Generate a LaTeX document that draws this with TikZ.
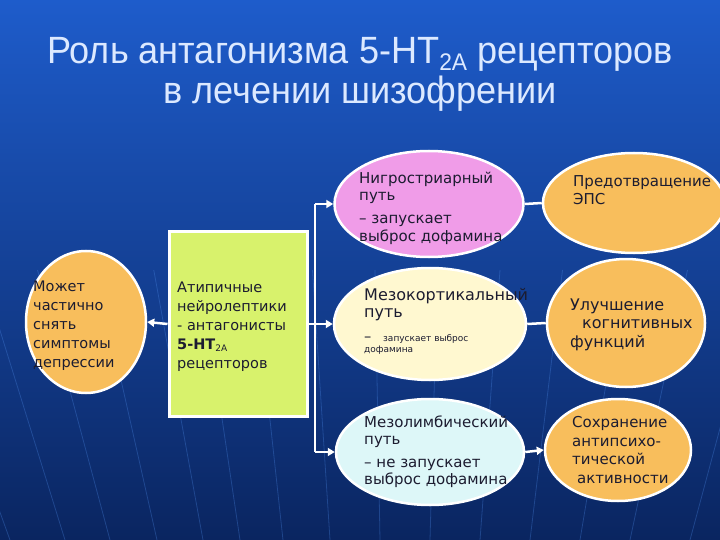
\documentclass[tikz,border=0pt]{standalone}
\usepackage{fontspec}
\setmainfont{DejaVu Sans}
\newfontfamily\titlefont[FakeStretch=0.95]{Liberation Sans}
\usetikzlibrary{shapes.geometric,arrows.meta}
\definecolor{bgtop}{HTML}{1E5CCB}
\definecolor{bgmid}{HTML}{1646A6}
\definecolor{bgbot}{HTML}{0A2560}
\definecolor{rayc}{HTML}{4F8DEB}
\definecolor{titlec}{HTML}{DCE9FF}
\definecolor{orangec}{HTML}{F8BE5C}
\definecolor{pinkc}{HTML}{F09CE8}
\definecolor{yellowc}{HTML}{FFF8D0}
\definecolor{cyanc}{HTML}{DDF7F8}
\definecolor{greenc}{HTML}{D8F26C}
\definecolor{textc}{HTML}{1C1C30}
\tikzset{
  ell/.style={ellipse, draw=white, line width=2.5pt, inner sep=0pt},
  txt/.style={anchor=base west, align=left, inner sep=0pt, text=textc,
              font=\fontsize{14.5}{19}\selectfont},
  conn/.style={draw=white, line width=2.5pt},
  arr/.style={conn, -{Triangle[length=7pt,width=8pt]}},
  ray/.style={draw=rayc, line width=0.8pt, opacity=0.3},
}
\begin{document}
\begin{tikzpicture}[x=1pt,y=-1pt]
\useasboundingbox (0,0) rectangle (720,540);
\shade[top color=bgtop, middle color=bgmid, bottom color=bgbot] (0,0) rectangle (720,540);
% faint background rays
\begin{scope}
\clip (0,0) rectangle (720,540);
\foreach \bx in {-200,-130,-60,10,65,110,157,203,240,283,330,380,430,480,530,580,630,690,760,840,930}
  \draw[ray] (\bx,540) -- ({400+(\bx-400)*1.25},270);
\end{scope}
% title
\node[text=titlec, font=\titlefont\fontsize{38}{40}\selectfont, anchor=base] (t1) at (360,64)
  {Роль антагонизма 5-HT\raisebox{-7pt}{\fontsize{24}{24}\selectfont 2A} рецепторов};
\node[text=titlec, font=\titlefont\fontsize{38}{40}\selectfont, anchor=base] (t2) at (360,104)
  {в лечении шизофрении};
% shapes
\node[ell, fill=orangec, minimum width=120, minimum height=142] (dep) at (86,322) {};
\node[draw=white, line width=3pt, fill=greenc, minimum width=138, minimum height=185, inner sep=0pt] (box) at (238,324) {};
\node[ell, fill=pinkc, minimum width=189, minimum height=106] (pink) at (429,204) {};
\node[ell, fill=yellowc, minimum width=192, minimum height=112] (yel) at (430,324) {};
\node[ell, fill=cyanc, minimum width=188, minimum height=106] (cyan) at (430,452) {};
\node[ell, fill=orangec, minimum width=182, minimum height=100] (or1) at (634,203) {};
\node[ell, fill=orangec, minimum width=158, minimum height=128] (or2) at (626,323) {};
\node[ell, fill=orangec, minimum width=146, minimum height=102] (or3) at (618,450) {};
% connectors
\coordinate (vt) at (315,204);
\coordinate (vb) at (315,452);
\draw[arr] (box.west) -- (dep.east);
\draw[conn] (vt) -- (vb);
\draw[arr] (vt) -- (pink.west);
\draw[arr] (box.east) -- (yel.west);
\draw[arr] (vb) -- (cyan.west);
\draw[conn] (pink.east) -- (or1.west);
\draw[conn] (yel.east) -- (or2.west);
\draw[arr] (cyan.east) -- (or3.west);
% texts (anchor = baseline of the last line)
\node[txt] (tdep) at (33,367) {Может\\частично\\снять\\симптомы\\депрессии};
\node[txt] (tbox) at (177,368) {Атипичные\\нейролептики\\- антагонисты\\{\bfseries 5-HT}\raisebox{-2pt}{\fontsize{9}{9}\selectfont 2A}\\рецепторов};
\node[txt, font=\fontsize{15}{17.5}\selectfont] (tpink) at (359,241) {Нигростриарный\\путь\\[5pt]– запускает\\выброс дофамина};
\node[txt, font=\fontsize{16}{17}\selectfont] (tyel) at (364,317) {Мезокортикальный\\путь};
\node[txt, font=\fontsize{14.5}{10}\selectfont] (tyel2) at (364,341) {–};
\node[txt, font=\fontsize{9}{10}\selectfont] (tyel3) at (383,341) {запускает выброс};
\node[txt, font=\fontsize{9}{10}\selectfont] (tyel4) at (364,352) {дофамина};
\node[txt, font=\fontsize{15}{16.5}\selectfont] (tcyan) at (364,484) {Мезолимбический\\путь\\[7pt]– не запускает\\выброс дофамина};
\node[txt, font=\fontsize{15}{18}\selectfont] (tor1) at (573,205) {Предотвращение\\ЭПС};
\node[txt, font=\fontsize{16}{18.5}\selectfont] (tor2) at (570,347) {Улучшение\\\hspace*{12pt}когнитивных\\функций};
\node[txt, font=\fontsize{15}{18.5}\selectfont] (tor3) at (572,483) {Сохранение\\антипсихо-\\тической\\\hspace*{5pt}активности};
\end{tikzpicture}
\end{document}
